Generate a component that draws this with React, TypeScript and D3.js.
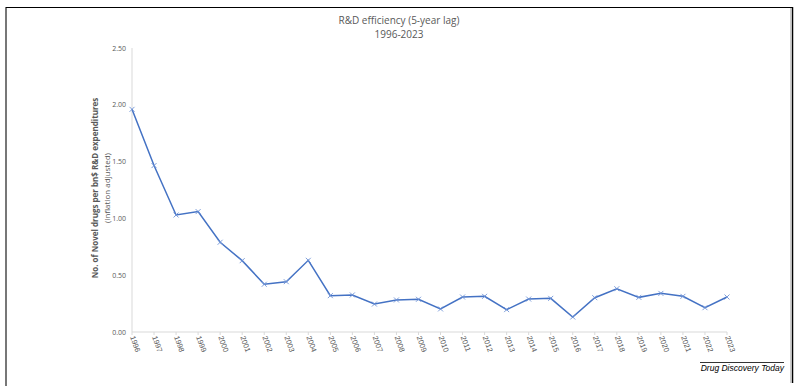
import React from "react";
import * as d3 from "d3";

const years = [1996,1997,1998,1999,2000,2001,2002,2003,2004,2005,2006,2007,2008,2009,2010,2011,2012,2013,2014,2015,2016,2017,2018,2019,2020,2021,2022,2023];
const efficiency = [1.96,1.465,1.03,1.06,0.79,0.628,0.42,0.443,0.631,0.32,0.326,0.246,0.282,0.288,0.203,0.308,0.314,0.197,0.29,0.296,0.132,0.302,0.381,0.305,0.34,0.314,0.214,0.308];
const yTicks = [0, 0.5, 1.0, 1.5, 2.0, 2.5];

const W = 800, H = 386;
const left = 132, right = 727, top = 48, bottom = 332;

export default function App() {
  const x = d3.scaleLinear().domain([years[0], years[years.length - 1]]).range([left, right]);
  const y = d3.scaleLinear().domain([0, 2.5]).range([bottom, top]);
  const line = d3.line<number>().x((_, i) => x(years[i])).y((d) => y(d));
  const data = efficiency;
  return (
    <svg width={W} height={H} style={{ position: "absolute", left: 0, top: 0 }}>
      <rect x={0} y={0} width={W} height={H} fill="#fff" />
      {/* frame */}
      <line x1={6} y1={7} x2={6} y2={H} stroke="#777" strokeWidth={2} />
      <line x1={6} y1={7.5} x2={792.5} y2={7.5} stroke="#000" strokeWidth={1.2} />
      <line x1={792.5} y1={7} x2={792.5} y2={383} stroke="#000" strokeWidth={1.5} />
      <line x1={790.5} y1={8} x2={790.5} y2={383} stroke="#ccc" strokeWidth={1} />

      {/* title */}
      <g fontFamily="'Open Sans', sans-serif" fill="#595959" textAnchor="middle" fontSize={10}>
        <text x={399} y={24}>R&amp;D efficiency (5-year lag)</text>
        <text x={399} y={38}>1996-2023</text>
      </g>

      {/* y axis */}
      <line x1={left} y1={top} x2={left} y2={bottom} stroke="#d9d9d9" strokeWidth={1} />
      {yTicks.map((t) => (
        <text key={t} x={126} y={y(t) + 2.5} textAnchor="end" fontSize={7} fill="#595959" fontFamily="'Open Sans', sans-serif">
          {t.toFixed(2)}
        </text>
      ))}
      <g transform={`translate(0,188) rotate(-90)`} textAnchor="middle" fontFamily="'Open Sans', sans-serif" fill="#595959">
        <text x={0} y={98} fontSize={8} fontWeight="bold">No. of Novel drugs per bn$ R&amp;D expenditures</text>
        <text x={0} y={110} fontSize={8}>(inflation adjusted)</text>
      </g>

      {/* x axis */}
      <line x1={left} y1={bottom} x2={right} y2={bottom} stroke="#d9d9d9" strokeWidth={1} />
      {years.map((yr) => (
        <g key={yr}>
          <line x1={x(yr)} y1={bottom} x2={x(yr)} y2={bottom + 3} stroke="#d9d9d9" />
          <text
            transform={`translate(${x(yr) - 2},${bottom + 5}) rotate(70)`}
            fontSize={7.5}
            fill="#595959"
            fontFamily="'Liberation Sans', Arial, sans-serif"
          >
            {yr}
          </text>
        </g>
      ))}

      {/* line */}
      <path d={line(data) || ""} fill="none" stroke="#4472C4" strokeWidth={1.5} />
      {data.map((v, i) => {
        const cx = x(years[i]), cy = y(v), s = 2.5;
        return (
          <path
            key={i}
            d={`M${cx - s},${cy - s}L${cx + s},${cy + s}M${cx - s},${cy + s}L${cx + s},${cy - s}`}
            stroke="#6f93d6"
            strokeWidth={0.9}
          />
        );
      })}

      {/* source */}
      <line x1={700} y1={362.5} x2={784} y2={362.5} stroke="#000" strokeWidth={0.8} />
      <text x={784} y={371} textAnchor="end" fontSize={8.5} fontStyle="italic" fontFamily="'Liberation Sans', Arial, sans-serif" fill="#000">
        Drug Discovery Today
      </text>
    </svg>
  );
}
